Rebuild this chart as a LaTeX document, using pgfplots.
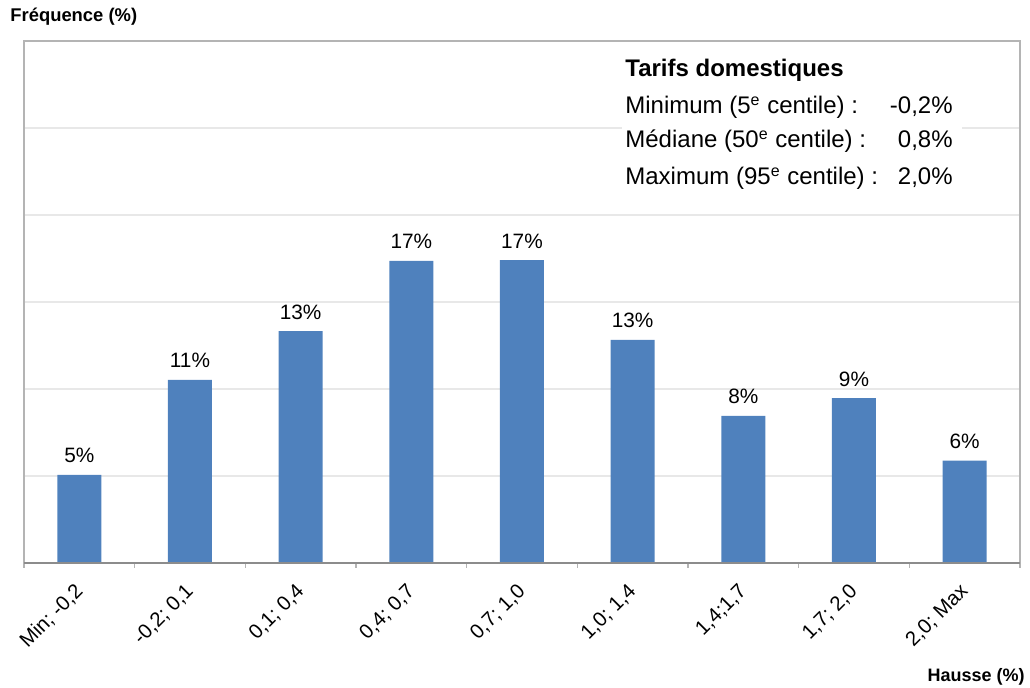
\documentclass[border=0pt]{standalone}
\usepackage{fontspec}
\setmainfont{Liberation Sans}
\usepackage{pgfplots}
\pgfplotsset{compat=1.18}
\usepackage{pgfplotstable}
\definecolor{barblue}{HTML}{4F81BD}
\definecolor{gridgray}{HTML}{E8E8E8}
\definecolor{framegray}{HTML}{B4B4B4}
\definecolor{axisgray}{HTML}{8C8C8C}
\pgfplotstableread{
x y lab
0 5.06 5
1 10.53 11
2 13.33 13
3 17.36 17
4 17.41 17
5 12.82 13
6 8.45 8
7 9.48 9
8 5.88 6
}\freq
\begin{document}
\begin{tikzpicture}
\path[use as bounding box] (-12pt,-62.5pt) rectangle (503pt,281.5pt);
\begin{axis}[
  at={(0,0)}, anchor=south west,
  scale only axis, width=498pt, height=261pt,
  xmin=-0.5, xmax=8.5, ymin=0, ymax=30,
  clip=false,
  axis line style={draw=framegray, line width=0.6pt},
  xtick={0,1,2,3,4,5,6,7,8},
  xticklabels={{Min; -0,2},{-0,2; 0,1},{0,1; 0,4},{0,4; 0,7},{0,7; 1,0},{1,0; 1,4},{1,4;1,7},{1,7; 2,0},{2,0; Max}},
  minor xtick={-0.5,0.5,1.5,2.5,3.5,4.5,5.5,6.5,7.5,8.5},
  xtick pos=bottom,
  tick align=outside,
  major tick length=0pt,
  minor tick length=2.5pt,
  minor tick style={draw=framegray, line width=0.6pt},
  ytick={5,10,15,20,25},
  yticklabels={},
  ytick pos=left,
  ymajorgrids,
  grid style={draw=gridgray, line width=0.6pt},
  xticklabel style={rotate=45, anchor=north east, inner sep=0pt, font=\fontsize{10.2}{12}\selectfont, xshift=-8.6pt, yshift=-4.5pt},
  ybar, bar width=22pt,
  nodes near coords={\pgfplotspointmeta\%},
  every node near coord/.append style={anchor=base, inner sep=0pt, yshift=6pt, font=\fontsize{10.4}{12}\selectfont, text=black},
]
\addplot[fill=barblue, draw=none, point meta=explicit symbolic] table[x=x, y=y, meta=lab] {\freq};
\draw[axisgray, line width=0.75pt] (rel axis cs:0,0) -- (rel axis cs:1,0);
\fill[white] (rel axis cs:0.6004,0.979) rectangle (rel axis cs:0.9418,0.7088);
\node[anchor=base west, inner sep=0pt, font=\fontsize{12}{14}\selectfont\bfseries, xshift=1.5pt, yshift=-12.5pt] at (rel axis cs:0.6004,0.979) {Tarifs domestiques};
\node[anchor=base west, inner sep=0pt, font=\fontsize{12}{14}\selectfont, xshift=1.5pt, yshift=-31pt] at (rel axis cs:0.6004,0.979) {Minimum (5\textsuperscript{e} centile) :};
\node[anchor=base west, inner sep=0pt, font=\fontsize{12}{14}\selectfont, xshift=1.5pt, yshift=-48pt] at (rel axis cs:0.6004,0.979) {Médiane (50\textsuperscript{e} centile) :};
\node[anchor=base west, inner sep=0pt, font=\fontsize{12}{14}\selectfont, xshift=1.5pt, yshift=-66.5pt] at (rel axis cs:0.6004,0.979) {Maximum (95\textsuperscript{e} centile) :};
\node[anchor=base east, inner sep=0pt, font=\fontsize{12}{14}\selectfont, xshift=-4.5pt, yshift=-31pt] at (rel axis cs:0.9418,0.979) {-0,2\%};
\node[anchor=base east, inner sep=0pt, font=\fontsize{12}{14}\selectfont, xshift=-4.5pt, yshift=-48pt] at (rel axis cs:0.9418,0.979) {0,8\%};
\node[anchor=base east, inner sep=0pt, font=\fontsize{12}{14}\selectfont, xshift=-4.5pt, yshift=-66.5pt] at (rel axis cs:0.9418,0.979) {2,0\%};
\node[anchor=base west, inner sep=0pt, font=\fontsize{9.2}{11}\selectfont\bfseries, xshift=-7pt, yshift=9.5pt] at (rel axis cs:0,1) {Fréquence (\%)};
\node[anchor=base east, inner sep=0pt, font=\fontsize{9}{11}\selectfont\bfseries, xshift=2.5pt, yshift=-59.5pt] at (rel axis cs:1,0) {Hausse (\%)};
\end{axis}
\end{tikzpicture}
\end{document}
